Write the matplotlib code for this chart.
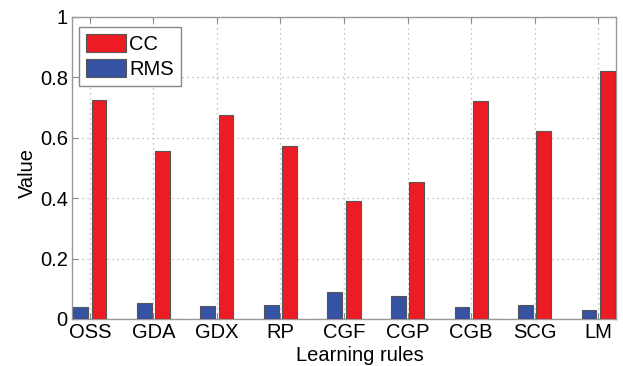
import numpy as np
import matplotlib.pyplot as plt

rules = ['OSS', 'GDA', 'GDX', 'RP', 'CGF', 'CGP', 'CGB', 'SCG', 'LM']
cc = [0.725, 0.557, 0.675, 0.574, 0.392, 0.455, 0.723, 0.623, 0.821]
rms = [0.041, 0.054, 0.043, 0.045, 0.089, 0.075, 0.040, 0.045, 0.031]

plt.rcParams['font.family'] = ['Liberation Sans', 'DejaVu Sans']
plt.rcParams['font.size'] = 14.5

fig = plt.figure(figsize=(6.23, 3.66), dpi=100)
ax = fig.add_axes([72 / 623, 1 - 319 / 366, 544 / 623, 302 / 366])

x = np.arange(1, len(rules) + 1)
w = 0.23
edge = '#555555'
ax.bar(x + 0.145, cc, width=w, color='#ed1c24', edgecolor=edge, linewidth=0.8, label='CC', zorder=3)
ax.bar(x - 0.145, rms, width=w, color='#3552a3', edgecolor=edge, linewidth=0.8, label='RMS', zorder=3)

ax.set_xlim(0.717, 9.283)
ax.set_ylim(0, 1)
ax.set_xticks(x)
ax.set_xticklabels(rules)
ax.set_yticks([0, 0.2, 0.4, 0.6, 0.8, 1])
ax.set_yticklabels(['0', '0.2', '0.4', '0.6', '0.8', '1'])
ax.tick_params(direction='in', length=4, color='#888888', pad=3)
ax.tick_params(top=True, right=True)
for s in ax.spines.values():
    s.set_color('#999999')
    s.set_linewidth(1.0)
ax.grid(True, linestyle=(0, (1, 3)), color='#b0b0b0', linewidth=0.9, zorder=0)

ax.set_xlabel('Learning rules')
ax.xaxis.set_label_coords(0.53, -0.09)
ax.set_ylabel('Value')
ax.yaxis.set_label_coords(-0.065, 0.483)

leg = ax.legend(loc='upper left', fancybox=False, handlelength=2.0, handleheight=1.0,
                borderpad=0.35, labelspacing=0.25, handletextpad=0.15, borderaxespad=0,
                bbox_to_anchor=(0.013, 0.967), framealpha=1)
leg.get_frame().set_edgecolor('#888888')
leg.get_frame().set_linewidth(1.0)

fig.savefig('out.png', dpi=100)
